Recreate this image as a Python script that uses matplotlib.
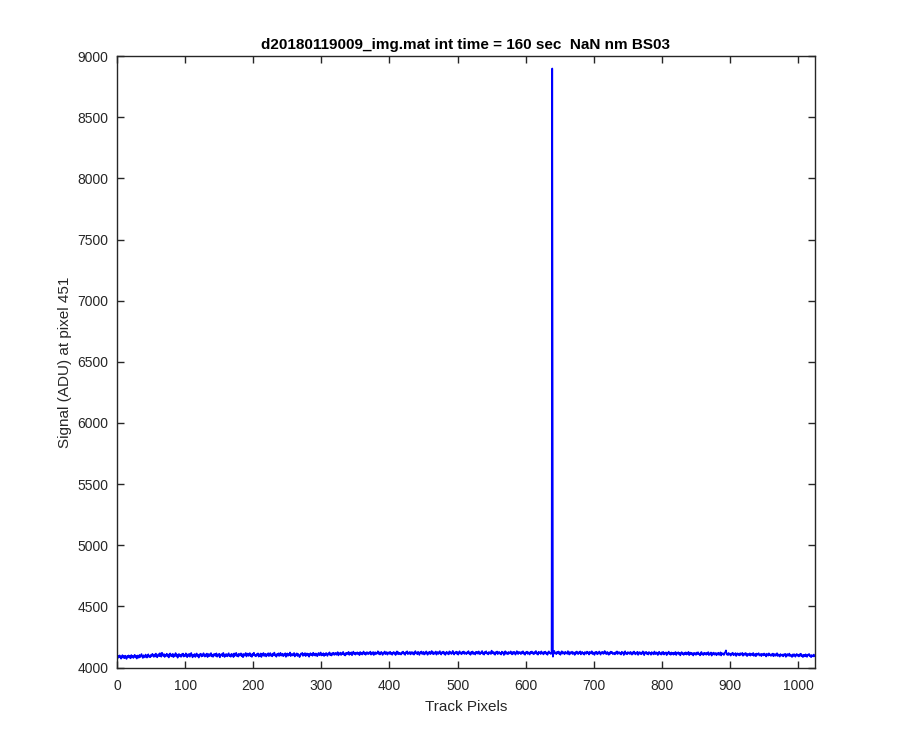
"""
Signal along the track at pixel 451 (d20180119009_img.mat).
"""

import numpy as np
import matplotlib
matplotlib.use('Agg')
import matplotlib.pyplot as plt

titel = 'd20180119009_img.mat int time = 160 sec  NaN nm BS03'
x_label = 'Track Pixels'
y_label = 'Signal (ADU) at pixel 451'

x_ticks = [0, 100, 200, 300, 400, 500, 600, 700, 800, 900, 1000]
y_ticks = [4000, 4500, 5000, 5500, 6000, 6500, 7000, 7500, 8000, 8500, 9000]

# signaal per track pixel (1..1024)
signaal = [
    4078, 4095, 4083, 4099, 4086, 4072, 4090, 4101, 4080, 4093, 4076, 4097, 4089, 4070, 4094, 4084,
    4099, 4081, 4093, 4075, 4102, 4087, 4096, 4078, 4091, 4104, 4083, 4094, 4073, 4098, 4088, 4080,
    4103, 4085, 4097, 4110, 4089, 4078, 4100, 4092, 4083, 4106, 4095, 4081, 4099, 4108, 4087, 4093,
    4084, 4105, 4093, 4112, 4099, 4087, 4106, 4090, 4114, 4096, 4083, 4102, 4109, 4092, 4117, 4098,
    4088, 4121, 4103, 4095, 4110, 4086, 4104, 4097, 4113, 4091, 4107, 4082, 4101, 4115, 4094, 4106,
    4090, 4112, 4085, 4103, 4096, 4118, 4092, 4106, 4080, 4099, 4111, 4093, 4104, 4087, 4109, 4097,
    4114, 4089, 4102, 4093, 4116, 4098, 4084, 4107, 4095, 4112, 4088, 4103, 4119, 4096, 4083, 4105,
    4097, 4110, 4086, 4104, 4115, 4092, 4101, 4081, 4108, 4099, 4113, 4090, 4106, 4094, 4117, 4100,
    4089, 4107, 4096, 4114, 4085, 4103, 4111, 4093, 4100, 4118, 4091, 4105, 4087, 4109, 4098, 4112,
    4094, 4116, 4088, 4104, 4097, 4113, 4083, 4106, 4099, 4111, 4092, 4120, 4101, 4086, 4108, 4095,
    4110, 4091, 4105, 4117, 4094, 4102, 4088, 4112, 4099, 4107, 4085, 4115, 4096, 4104, 4120, 4093,
    4106, 4089, 4113, 4098, 4101, 4116, 4092, 4108, 4084, 4111, 4097, 4105, 4119, 4090, 4103, 4114,
    4095, 4108, 4118, 4093, 4106, 4087, 4113, 4100, 4121, 4097, 4104, 4091, 4110, 4102, 4116, 4089,
    4107, 4097, 4115, 4086, 4109, 4100, 4119, 4094, 4105, 4112, 4090, 4108, 4099, 4117, 4093, 4103,
    4118, 4096, 4107, 4091, 4114, 4102, 4122, 4098, 4106, 4088, 4111, 4100, 4116, 4094, 4109, 4120,
    4097, 4104, 4113, 4092, 4108, 4099, 4117, 4087, 4106, 4115, 4095, 4110, 4101, 4123, 4093, 4107,
    4112, 4098, 4105, 4119, 4090, 4108, 4101, 4116, 4094, 4111, 4103, 4085, 4098, 4114, 4106, 4120,
    4095, 4110, 4102, 4118, 4093, 4107, 4115, 4099, 4112, 4088, 4106, 4117, 4101, 4109, 4096, 4121,
    4104, 4113, 4097, 4115, 4106, 4092, 4111, 4119, 4100, 4108, 4123, 4098, 4110, 4102, 4117, 4094,
    4112, 4101, 4119, 4106, 4095, 4115, 4108, 4124, 4100, 4113, 4098, 4118, 4107, 4121, 4103, 4111,
    4120, 4104, 4113, 4126, 4099, 4115, 4108, 4122, 4102, 4117, 4110, 4128, 4105, 4114, 4098, 4119,
    4107, 4121, 4112, 4128, 4103, 4117, 4109, 4124, 4100, 4116, 4130, 4111, 4119, 4105, 4122, 4113,
    4124, 4108, 4119, 4101, 4127, 4113, 4121, 4106, 4118, 4131, 4110, 4122, 4104, 4117, 4126, 4112,
    4109, 4123, 4114, 4130, 4105, 4120, 4112, 4127, 4102, 4118, 4125, 4108, 4121, 4115, 4133, 4111,
    4124, 4106, 4119, 4128, 4113, 4103, 4122, 4115, 4131, 4109, 4120, 4126, 4105, 4117, 4124, 4112,
    4129, 4110, 4121, 4104, 4118, 4127, 4113, 4123, 4102, 4119, 4132, 4111, 4125, 4108, 4120, 4114,
    4106, 4124, 4115, 4130, 4112, 4121, 4103, 4126, 4117, 4133, 4109, 4122, 4114, 4128, 4107, 4120,
    4127, 4111, 4123, 4105, 4118, 4134, 4115, 4122, 4108, 4129, 4116, 4103, 4125, 4119, 4131, 4110,
    4117, 4128, 4106, 4122, 4113, 4132, 4118, 4104, 4124, 4115, 4129, 4109, 4121, 4135, 4112, 4126,
    4108, 4123, 4116, 4131, 4105, 4119, 4127, 4111, 4122, 4134, 4114, 4106, 4125, 4117, 4130, 4112,
    4124, 4103, 4118, 4129, 4113, 4121, 4107, 4132, 4116, 4125, 4110, 4120, 4136, 4115, 4106, 4123,
    4117, 4130, 4112, 4126, 4105, 4122, 4133, 4114, 4119, 4108, 4128, 4118, 4131, 4111, 4124, 4116,
    4109, 4125, 4118, 4134, 4113, 4120, 4104, 4127, 4115, 4131, 4110, 4123, 4117, 4106, 4129, 4119,
    4126, 4112, 4132, 4116, 4108, 4124, 4119, 4135, 4111, 4122, 4105, 4128, 4117, 4133, 4114, 4120,
    4107, 4127, 4115, 4124, 4110, 4138, 4118, 4129, 4112, 4123, 4104, 4126, 4116, 4131, 4109, 4122,
    4128, 4113, 4119, 4106, 4130, 4117, 4124, 4102, 4121, 4133, 4111, 4125, 4115, 4108, 4127, 4119,
    4114, 4132, 4118, 4107, 4126, 4113, 4129, 4120, 4105, 4123, 4134, 4116, 4110, 4128, 4117, 4124,
    4109, 4127, 4116, 4133, 4112, 4122, 4104, 4125, 4119, 4130, 4111, 4124, 4115, 4106, 4128, 4118,
    4131, 4114, 4123, 4108, 4126, 4117, 4135, 4112, 4121, 4105, 4129, 4118, 4124, 4110, 4132, 4116,
    4122, 4107, 4128, 4115, 4130, 4113, 4119, 4104, 4125, 4132, 4116, 4121, 4110, 4127, 8900, 4088,
    4124, 4136, 4115, 4122, 4109, 4128, 4117, 4131, 4112, 4125, 4104, 4120, 4133, 4114, 4126, 4118,
    4108, 4129, 4116, 4123, 4111, 4134, 4119, 4106, 4127, 4113, 4121, 4130, 4110, 4124, 4117, 4103,
    4126, 4114, 4131, 4118, 4109, 4125, 4116, 4132, 4107, 4122, 4128, 4113, 4120, 4105, 4127, 4119,
    4112, 4130, 4117, 4124, 4106, 4128, 4115, 4121, 4133, 4110, 4123, 4116, 4103, 4126, 4118, 4129,
    4108, 4122, 4114, 4131, 4117, 4105, 4125, 4119, 4128, 4111, 4120, 4135, 4113, 4124, 4109, 4127,
    4116, 4104, 4123, 4112, 4130, 4118, 4126, 4109, 4114, 4121, 4107, 4125, 4115, 4132, 4110, 4119,
    4127, 4113, 4120, 4106, 4129, 4117, 4124, 4102, 4121, 4133, 4112, 4119, 4108, 4126, 4115, 4123,
    4110, 4128, 4116, 4105, 4124, 4113, 4131, 4118, 4107, 4122, 4114, 4129, 4103, 4120, 4126, 4111,
    4123, 4108, 4119, 4132, 4114, 4101, 4125, 4116, 4128, 4110, 4121, 4106, 4127, 4115, 4119, 4104,
    4126, 4113, 4120, 4107, 4131, 4115, 4109, 4124, 4118, 4102, 4122, 4129, 4111, 4117, 4105, 4125,
    4112, 4128, 4106, 4119, 4114, 4124, 4101, 4121, 4116, 4130, 4108, 4118, 4104, 4123, 4113, 4119,
    4105, 4122, 4111, 4127, 4102, 4118, 4115, 4125, 4108, 4120, 4099, 4117, 4126, 4110, 4116, 4103,
    4121, 4109, 4124, 4106, 4118, 4112, 4128, 4101, 4116, 4122, 4107, 4119, 4113, 4098, 4120, 4111,
    4117, 4103, 4122, 4110, 4125, 4108, 4114, 4099, 4119, 4127, 4106, 4115, 4102, 4121, 4111, 4118,
    4104, 4120, 4109, 4126, 4101, 4115, 4112, 4123, 4097, 4117, 4108, 4122, 4105, 4114, 4119, 4100,
    4116, 4107, 4121, 4103, 4113, 4124, 4098, 4118, 4109, 4115, 4102, 4120, 4125, 4140, 4106, 4114,
    4101, 4119, 4106, 4113, 4097, 4115, 4110, 4121, 4100, 4112, 4105, 4118, 4094, 4111, 4116, 4103,
    4113, 4099, 4117, 4104, 4110, 4120, 4096, 4108, 4115, 4102, 4119, 4106, 4093, 4112, 4109, 4100,
    4116, 4097, 4108, 4113, 4101, 4119, 4095, 4106, 4111, 4092, 4114, 4103, 4109, 4117, 4098, 4104,
    4110, 4093, 4112, 4106, 4099, 4115, 4101, 4108, 4090, 4113, 4105, 4097, 4116, 4102, 4107, 4095,
    4109, 4098, 4114, 4092, 4105, 4111, 4096, 4103, 4117, 4094, 4107, 4100, 4089, 4110, 4104, 4097,
    4106, 4091, 4108, 4099, 4112, 4087, 4103, 4110, 4095, 4101, 4114, 4093, 4105, 4098, 4086, 4107,
    4094, 4109, 4100, 4088, 4105, 4111, 4096, 4102, 4090, 4108, 4097, 4113, 4092, 4101, 4085, 4104,
    4103, 4091, 4108, 4096, 4087, 4105, 4099, 4111, 4093, 4100, 4084, 4102, 4095, 4090, 4106, 4093,
]

pixels = np.arange(1, len(signaal) + 1)

plt.rcParams['font.family'] = ['Liberation Sans', 'DejaVu Sans']

fig = plt.figure(figsize=(9, 7.5), dpi=100)
ax = fig.add_axes([0.13, 0.11, 0.775, 0.815])

ax.plot(pixels, signaal, color=(0, 0, 1), linewidth=1.2)

grijs = (0.15, 0.15, 0.15)
ax.set_xlim(0, 1024)
ax.set_ylim(4000, 9000)
ax.set_xticks(x_ticks)
ax.set_yticks(y_ticks)
ax.tick_params(direction='in', top=True, right=True, length=5, width=1,
               colors=grijs, labelsize=10, pad=6)
ax.tick_params(axis='x', pad=8)
for spine in ax.spines.values():
    spine.set_color(grijs)
    spine.set_linewidth(1.0)

ax.set_xlabel(x_label, fontsize=11, color=grijs, labelpad=5)
ax.set_ylabel(y_label, fontsize=11, color=grijs)
ax.set_title(titel, fontsize=11, fontweight='bold', color='black', pad=5)

fig.savefig('out.png', dpi=100)
